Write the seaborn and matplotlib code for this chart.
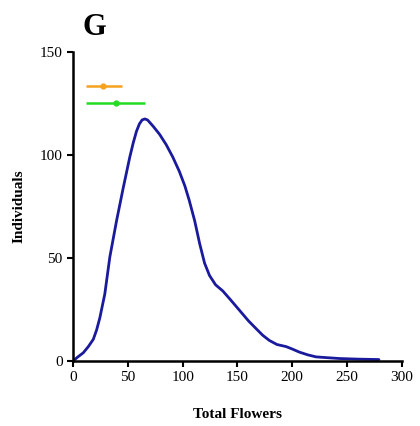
import matplotlib
matplotlib.use("Agg")
import matplotlib.pyplot as plt
import seaborn as sns
import pandas as pd

# Density curve (Total Flowers vs Individuals)
flowers = [0, 4.5, 9.4, 14, 18.5, 21.5, 24.5, 29, 33.6, 39.7, 45.8, 51.8, 55, 57.9, 60.5, 63,
           65.5, 68, 70.5, 73, 79, 85, 91, 97, 102, 106, 111, 115.5, 120, 124.5, 130,
           136.6, 144, 152, 160, 167, 173, 179, 186, 194.3, 200, 206.5, 214, 221.6, 232,
           243, 260, 279]
individuals = [0, 2, 4, 7, 10.5, 15, 21, 32.5, 50.5, 68, 84, 99, 106, 111.5, 115, 117,
               117.5, 117, 115.5, 114, 110, 105, 99, 92, 85, 78, 68, 57, 47.5, 41.5, 37,
               34, 29.5, 24.5, 19.5, 15.7, 12.5, 10, 8, 7, 5.8, 4.3, 3, 2, 1.6,
               1.2, 0.9, 0.7]

# Mean +/- range bars
bar_means = [27.6, 39.1]
bar_low = [11.5, 12.1]
bar_high = [44.8, 65.5]
bar_y = [133.6, 125.4]
bar_colors = ["#f5a21f", "#22dd22"]

xticks = [0, 50, 100, 150, 200, 250, 300]
yticks = [0, 50, 100, 150]

sns.set_style("white")
plt.rcParams["font.family"] = ["Liberation Serif", "DejaVu Serif"]
plt.rcParams["text.color"] = "black"
plt.rcParams["axes.labelcolor"] = "black"

fig = plt.figure(figsize=(4.2, 4.26), dpi=100)
ax = fig.add_axes([0.1738, 0.1526, 0.957 - 0.1738, 0.878 - 0.1526])

df = pd.DataFrame({"Total Flowers": flowers, "Individuals": individuals})
sns.lineplot(data=df, x="Total Flowers", y="Individuals", ax=ax,
             color="#1a1a9c", linewidth=2, sort=False)

for m, lo, hi, yy, c in zip(bar_means, bar_low, bar_high, bar_y, bar_colors):
    ax.errorbar([m], [yy], xerr=[[m - lo], [hi - m]], fmt="o", color=c,
                markersize=3.5, elinewidth=1.8, capsize=0)

ax.set_xlim(0, 300)
ax.set_ylim(0, 150)
ax.set_xticks(xticks)
ax.set_yticks(yticks)
ax.tick_params(axis="both", direction="out", length=4, width=1.5, labelsize=11,
               colors="black", bottom=True, left=True)
for s in ["top", "right"]:
    ax.spines[s].set_visible(False)
for s in ["left", "bottom"]:
    ax.spines[s].set_color("black")
    ax.spines[s].set_linewidth(1.8)

ax.set_xlabel("Total Flowers", fontsize=11, fontweight="bold", labelpad=17)
ax.set_ylabel("Individuals", fontsize=11, fontweight="bold", labelpad=10)
fig.text(0.225, 0.935, "G", fontsize=22, fontweight="bold", ha="center", va="center")

fig.savefig("out.png", dpi=100)
